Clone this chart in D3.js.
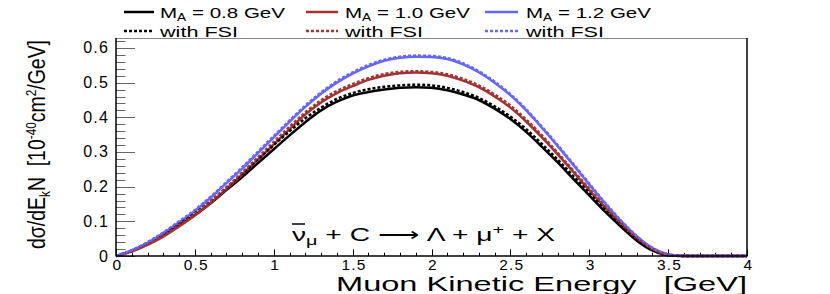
<!DOCTYPE html>
<html><head><meta charset="utf-8">
<script src="https://cdn.jsdelivr.net/npm/d3@7"></script>
<style>
html,body{margin:0;padding:0;background:#fff;}
text{font-family:"Liberation Sans",Arial,Helvetica,sans-serif;}
</style></head>
<body><svg id="c" width="830" height="294"></svg>
<script>
// ---- data ----
const energy = d3.range(0, 41).map(i => +(i * 0.1).toFixed(1));
const ma08    = [0,0.015,0.035,0.06,0.09,0.118,0.152,0.19,0.228,0.268,0.308,0.348,0.386,0.42,0.445,0.463,0.473,0.48,0.485,0.487,0.485,0.478,0.466,0.45,0.425,0.395,0.358,0.315,0.27,0.222,0.175,0.128,0.085,0.045,0.016,0.002,0,0,0,0,0];
const ma08fsi = [0,0.016,0.037,0.063,0.093,0.123,0.158,0.197,0.237,0.279,0.32,0.36,0.397,0.428,0.453,0.47,0.481,0.488,0.492,0.494,0.492,0.485,0.473,0.456,0.432,0.402,0.366,0.323,0.278,0.23,0.182,0.134,0.089,0.048,0.018,0.003,0,0,0,0,0];
const ma10    = [0,0.013,0.032,0.056,0.085,0.117,0.153,0.193,0.235,0.278,0.322,0.366,0.408,0.443,0.47,0.49,0.508,0.52,0.527,0.529,0.527,0.52,0.506,0.487,0.46,0.428,0.388,0.342,0.293,0.242,0.19,0.14,0.093,0.052,0.02,0.004,0,0,0,0,0];
const ma10fsi = [0,0.014,0.034,0.059,0.089,0.121,0.158,0.198,0.241,0.285,0.329,0.373,0.414,0.449,0.476,0.496,0.513,0.525,0.531,0.533,0.531,0.524,0.511,0.492,0.466,0.434,0.394,0.348,0.298,0.246,0.194,0.143,0.096,0.054,0.021,0.004,0,0,0,0,0];
const ma12    = [0,0.016,0.038,0.066,0.097,0.13,0.168,0.21,0.252,0.297,0.342,0.387,0.43,0.468,0.5,0.526,0.547,0.563,0.572,0.575,0.574,0.568,0.553,0.53,0.5,0.464,0.42,0.37,0.317,0.262,0.206,0.152,0.101,0.057,0.023,0.005,0,0,0,0,0];
const ma12fsi = [0,0.017,0.04,0.068,0.1,0.133,0.171,0.213,0.256,0.301,0.346,0.391,0.434,0.472,0.504,0.53,0.551,0.566,0.575,0.578,0.577,0.571,0.556,0.533,0.503,0.467,0.423,0.373,0.32,0.265,0.209,0.154,0.103,0.058,0.024,0.005,0,0,0,0,0];
const xTicks = [0,0.5,1,1.5,2,2.5,3,3.5,4];
const xTickLabels = ["0","0.5","1","1.5","2","2.5","3","3.5","4"];
const yTicks = [0,0.1,0.2,0.3,0.4,0.5,0.6];
const yTickLabels = ["0","0.1","0.2","0.3","0.4","0.5","0.6"];
const legendLabels = ["0.8","1.0","1.2"];
const fsiLabel = "with FSI";

const series = [
  {v: ma08, c: "#000000", dash: null},
  {v: ma10, c: "#a33333", dash: null},
  {v: ma12, c: "#6666ff", dash: null},
  {v: ma08fsi, c: "#000000", dash: "3,2"},
  {v: ma10fsi, c: "#a33333", dash: "3,2"},
  {v: ma12fsi, c: "#6666ff", dash: "3,2"}
];

const svg = d3.select("#c");
const L = 116, R = 747, T = 38, B = 256;
const x = d3.scaleLinear().domain([0, 4]).range([L, R]);
const y = d3.scaleLinear().domain([0, 0.6288]).range([B, T]);

svg.append("clipPath").attr("id","clip").append("rect")
  .attr("x", L).attr("y", T).attr("width", R - L).attr("height", B - T + 2);

// ticks: y axis
const yMinor = d3.range(0, 0.63, 0.02);
svg.append("g").selectAll("line").data(yMinor).join("line")
  .attr("x1", L).attr("x2", (d,i) => i % 5 === 0 ? L + 19 : L + 9.5)
  .attr("y1", d => Math.round(y(d)) + 0.5).attr("y2", d => Math.round(y(d)) + 0.5)
  .attr("stroke", "#666").attr("stroke-width", 1);
// x axis ticks
const xMinor = d3.range(0, 4.01, 0.1);
svg.append("g").selectAll("line").data(xMinor).join("line")
  .attr("x1", d => Math.round(x(d)) + 0.5).attr("x2", d => Math.round(x(d)) + 0.5)
  .attr("y1", B).attr("y2", (d,i) => i % 5 === 0 ? B - 6.6 : B - 3.3)
  .attr("stroke", "#000").attr("stroke-width", 1);

// tick labels
svg.append("g").selectAll("text").data(yTicks).join("text")
  .attr("x", 109).attr("y", d => y(d) + 5.5)
  .attr("text-anchor", "end").attr("font-size", 16).attr("letter-spacing", 1.2)
  .text((d,i) => yTickLabels[i]);
svg.append("g").selectAll("text").data(xTicks).join("text")
  .attr("x", d => x(d) + 1.5).attr("y", 270)
  .attr("text-anchor", "middle").attr("font-size", 15.5).attr("letter-spacing", 1.2)
  .text((d,i) => xTickLabels[i]);

// curves
const line = d3.line().x((d,i) => x(energy[i])).y(d => y(d)).curve(d3.curveMonotoneX);
const gc = svg.append("g").attr("clip-path", "url(#clip)");
series.forEach(s => {
  gc.append("path").attr("d", line(s.v)).attr("fill", "none")
    .attr("stroke", s.c).attr("stroke-width", 2.5)
    .attr("stroke-dasharray", s.dash);
});

// frame
svg.append("line").attr("x1", L).attr("x2", R).attr("y1", T + 0.5).attr("y2", T + 0.5).attr("stroke", "#888").attr("stroke-width", 1);
svg.append("line").attr("x1", L).attr("x2", L).attr("y1", T).attr("y2", B + 0.5).attr("stroke", "#000").attr("stroke-width", 1.5);
svg.append("line").attr("x1", R).attr("x2", R).attr("y1", T).attr("y2", B + 0.5).attr("stroke", "#000").attr("stroke-width", 1.5);
svg.append("line").attr("x1", L).attr("x2", R).attr("y1", B).attr("y2", B).attr("stroke", "#000").attr("stroke-width", 1.5);

// legend
const legX = [124, 306, 485];
const legLen = [30, 32, 33];
const legTX = [160, 345, 526];
const legCols = ["#000000", "#a33333", "#6666ff"];
legendLabels.forEach((lab, i) => {
  svg.append("line").attr("x1", legX[i]).attr("x2", legX[i] + legLen[i]).attr("y1", 12).attr("y2", 12)
    .attr("stroke", legCols[i]).attr("stroke-width", 2.5);
  svg.append("line").attr("x1", legX[i]).attr("x2", legX[i] + legLen[i]).attr("y1", 31).attr("y2", 31)
    .attr("stroke", legCols[i]).attr("stroke-width", 2.5).attr("stroke-dasharray", "3,2");
  const t = svg.append("text").attr("x", legTX[i]).attr("y", 17.5).attr("font-size", 15)
    .attr("textLength", 125).attr("lengthAdjust", "spacingAndGlyphs");
  t.append("tspan").text("M");
  t.append("tspan").attr("dy", 3.5).attr("font-size", 10).text("A");
  t.append("tspan").attr("dy", -3.5).text(" = " + lab + " GeV");
  svg.append("text").attr("x", legTX[i]).attr("y", 36.5).attr("font-size", 15)
    .attr("textLength", 78).attr("lengthAdjust", "spacingAndGlyphs").text(fsiLabel);
});

// x title
svg.append("text").attr("x", 747).attr("y", 290.5).attr("text-anchor", "end")
  .attr("font-size", 20.5).attr("textLength", 411).attr("lengthAdjust", "spacingAndGlyphs")
  .text("Muon Kinetic Energy\u00a0\u00a0\u00a0[GeV]");

// y title
const yt = svg.append("text").attr("transform", "translate(45,249) rotate(-90)")
  .attr("font-size", 23).attr("textLength", 209).attr("lengthAdjust", "spacingAndGlyphs");
yt.append("tspan").text("dσ/dE");
yt.append("tspan").attr("dy", 5).attr("font-size", 14).text("k");
yt.append("tspan").attr("dy", -5).text("N\u00a0\u00a0[10");
yt.append("tspan").attr("dy", -9).attr("font-size", 14).text("-40");
yt.append("tspan").attr("dy", 9).text("cm");
yt.append("tspan").attr("dy", -9).attr("font-size", 14).text("2");
yt.append("tspan").attr("dy", 9).text("/GeV]");

// annotation
const an = svg.append("text").attr("x", 292).attr("y", 241).attr("font-size", 18.5)
  .attr("textLength", 263).attr("lengthAdjust", "spacingAndGlyphs");
an.append("tspan").text("ν");
an.append("tspan").attr("dy", 4).attr("font-size", 13).text("μ");
an.append("tspan").attr("dy", -4).text(" + C ⟶ Λ + μ");
an.append("tspan").attr("dy", -7).attr("font-size", 13).text("+");
an.append("tspan").attr("dy", 7).text(" + X");
svg.append("line").attr("x1", 292).attr("x2", 305).attr("y1", 224).attr("y2", 224).attr("stroke", "#000").attr("stroke-width", 1.5);
</script></body></html>
